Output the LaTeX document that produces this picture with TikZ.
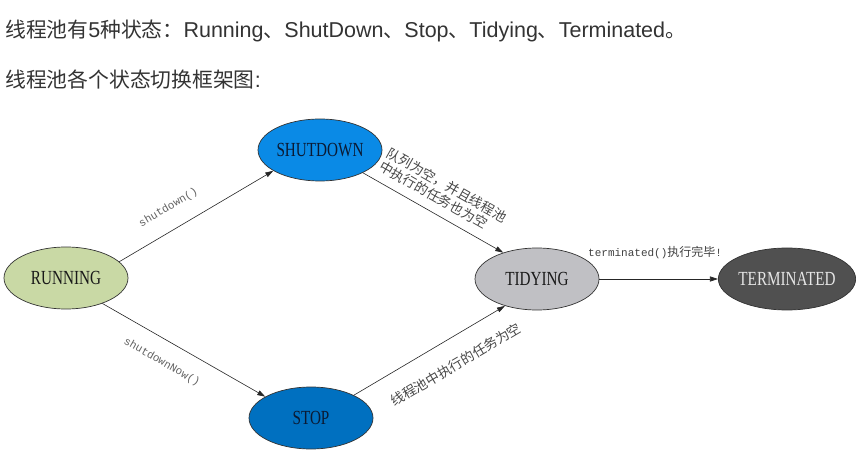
\documentclass[tikz,border=0pt]{standalone}
\usepackage{graphicx}
\usepackage{fontspec}
\setmainfont{Liberation Sans}
\newfontfamily\cjk{Noto Sans CJK SC}
\newfontfamily\serifx{Liberation Serif}
\newfontfamily\monox{Liberation Mono}
\usetikzlibrary{arrows.meta,shapes.geometric}
\definecolor{runfill}{HTML}{C9D9A5}
\definecolor{shutfill}{HTML}{0A8AE6}
\definecolor{stopfill}{HTML}{0070C0}
\definecolor{tidyfill}{HTML}{C0C0C4}
\definecolor{termfill}{HTML}{505050}
\definecolor{navytext}{HTML}{0B1A33}
\definecolor{bodytext}{HTML}{333333}
\newcommand{\stname}[1]{\scalebox{0.76}[1]{#1}}
\newcommand{\cjktop}[1]{{\cjk\fontsize{20.8}{24}\selectfont #1}}
\begin{document}
\begin{tikzpicture}[x=1pt,y=-1pt,
  state/.style={ellipse, draw=black!80, line width=0.7pt, minimum width=124pt,
    minimum height=62pt, inner sep=0pt, font=\serifx\fontsize{20}{24}\selectfont},
  arr/.style={-{Triangle[length=8pt,width=5pt]}, line width=0.6pt, draw=black!85},
  lbl/.style={font=\monox\fontsize{11}{13}\selectfont, text=black!62, inner sep=0pt},
  cnlbl/.style={font=\cjk\fontsize{13.5}{15.5}\selectfont, text=black!72, inner sep=0pt},
  top/.style={anchor=base west, inner sep=0pt, text=bodytext, font=\fontsize{21.5}{24}\selectfont}]
\useasboundingbox (0,0) rectangle (868,473);

\node[top] (t1) at (5,38) {\cjktop{线程池有}5\cjktop{种状态：}Running\cjktop{、}ShutDown\cjktop{、}Stop\cjktop{、}Tidying\cjktop{、}Terminated\cjktop{。}};
\node[top] (t2) at (5,88) {\cjktop{线程池各个状态切换框架图}:};

\node[state, fill=runfill, text=black!90] (run) at (66,278) {\stname{RUNNING}};
\node[state, fill=shutfill, text=navytext] (shut) at (320,150) {\stname{SHUTDOWN}};
\node[state, fill=stopfill, text=navytext] (stop) at (311,418) {\stname{STOP}};
\node[state, fill=tidyfill, text=black!90] (tidy) at (537,279) {\stname{TIDYING}};
\node[state, fill=termfill, text=black!10] (term) at (787,279) {\stname{TERMINATED}};

\draw[arr] (run.17) -- node[lbl, sloped, pos=0.39, above=16pt] {shutdown()} (shut.204);
\draw[arr] (run.325) -- node[lbl, sloped, pos=0.43, below=16pt] {shutdownNow()} (stop.155);
\draw[arr] (shut.332) -- node[cnlbl, sloped, pos=0.49, above=9pt, align=left] {队列为空，并且线程池\\中执行的任务也为空} (tidy.142);
\draw[arr] (stop.28) -- node[cnlbl, sloped, pos=0.59, below=19pt] {线程池中执行的任务为空} (tidy.220);
\draw[arr] (tidy) -- node[lbl, pos=0.47, above=20pt, text=black!75] {terminated(){\cjk\fontsize{12}{14}\selectfont 执行完毕}!} (term);
\end{tikzpicture}
\end{document}
